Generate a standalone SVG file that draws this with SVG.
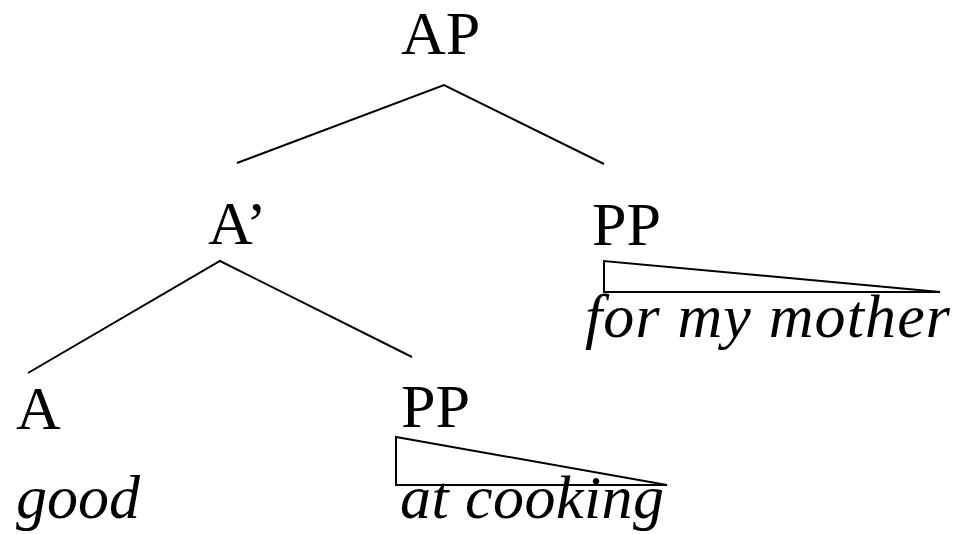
<svg xmlns="http://www.w3.org/2000/svg" width="962" height="534" viewBox="0 0 962 534">
<style>
text{font-family:"Liberation Serif","Times New Roman",serif;font-size:62px;fill:#000}
.it{font-style:italic}
.ln{stroke:#000;stroke-width:2;fill:none}
.tri{stroke:#000;stroke-width:2;fill:#fff;stroke-linejoin:miter}
</style>
<rect width="962" height="534" fill="#fff"/>
<g id="connectors">
<polyline class="ln" points="237,163 444,85 604,164"/>
<polyline class="ln" points="28,373 220,261 412,357"/>
</g>
<g id="node-AP"><text x="401" y="54">AP</text></g>
<g id="node-Abar"><text x="208" y="244">A’</text></g>
<g id="node-PP1">
<text x="592" y="245">PP</text>
<polygon class="tri" points="604,261 604,292 940,292"/>
<text class="it" x="585" y="337" textLength="365" lengthAdjust="spacing">for my mother</text>
</g>
<g id="node-A">
<text x="16" y="429">A</text>
<text class="it" x="16" y="518">good</text>
</g>
<g id="node-PP2">
<text x="401" y="427">PP</text>
<polygon class="tri" points="396,437 396,485 667,485"/>
<text class="it" x="400" y="518" textLength="264" lengthAdjust="spacing">at cooking</text>
</g>
</svg>
